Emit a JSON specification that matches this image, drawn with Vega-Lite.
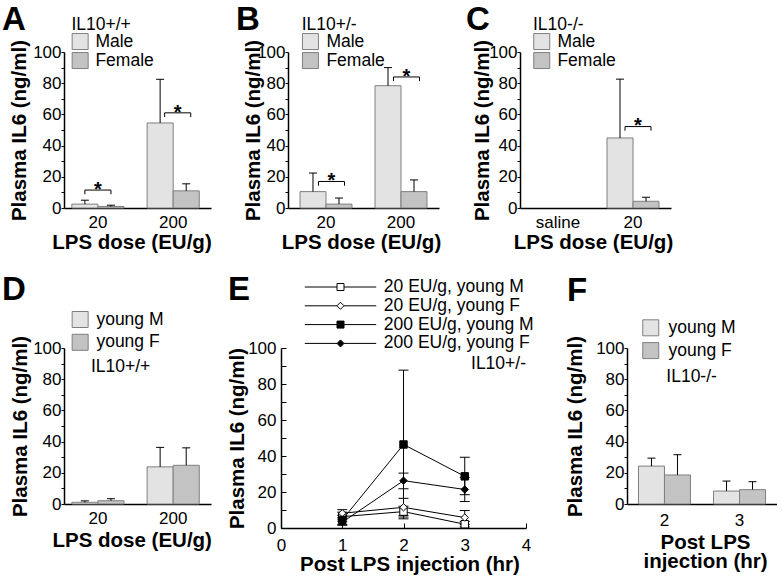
{
  "$schema": "https://vega.github.io/schema/vega-lite/v6.json",
  "padding": {"left": 2, "top": 3, "right": 0, "bottom": 0},
  "config": {
    "font": "Liberation Sans",
    "view": {"stroke": null},
    "axis": {"grid": false, "domainColor": "#000", "domainWidth": 1.5, "tickColor": "#000", "tickWidth": 1, "labelColor": "#000", "titleColor": "#000", "labelFontSize": 17, "titleFontSize": 20.5, "titleFontWeight": "bold", "labelFont": "Liberation Sans", "titleFont": "Liberation Sans", "labelOverlap": false, "labelFlush": false, "labelBound": false},
    "axisX": {"labelAngle": 0},
    "legend": {"orient": "none", "padding": 0, "labelFont": "Liberation Sans", "titleFont": "Liberation Sans", "labelFontSize": 17.5, "titleFontSize": 17.5, "titleFontWeight": "normal", "labelColor": "#000", "titleColor": "#000"},
    "title": {"fontSize": 33, "fontWeight": "bold", "anchor": "start", "color": "#000", "frame": "group", "font": "Liberation Sans"}
  },
  "datasets": {
    "bars": [
      {"panel": "A", "group": "20", "sex": "Male", "value": 2.5, "upper": 5},
      {"panel": "A", "group": "20", "sex": "Female", "value": 1.0, "upper": 1.8},
      {"panel": "A", "group": "200", "sex": "Male", "value": 54.5, "upper": 82.5},
      {"panel": "A", "group": "200", "sex": "Female", "value": 11, "upper": 15.5},
      {"panel": "B", "group": "20", "sex": "Male", "value": 10.5, "upper": 22.4},
      {"panel": "B", "group": "20", "sex": "Female", "value": 2.5, "upper": 6.4},
      {"panel": "B", "group": "200", "sex": "Male", "value": 78.4, "upper": 90},
      {"panel": "B", "group": "200", "sex": "Female", "value": 10.5, "upper": 18},
      {"panel": "C", "group": "20", "sex": "Male", "value": 44.9, "upper": 82.6},
      {"panel": "C", "group": "20", "sex": "Female", "value": 4.3, "upper": 6.9},
      {"panel": "D", "group": "20", "sex": "young M", "value": 1.1, "upper": 2},
      {"panel": "D", "group": "20", "sex": "young F", "value": 2.1, "upper": 3.4},
      {"panel": "D", "group": "200", "sex": "young M", "value": 23.8, "upper": 36.3},
      {"panel": "D", "group": "200", "sex": "young F", "value": 24.8, "upper": 36},
      {"panel": "F", "group": "2", "sex": "young M", "value": 24.3, "upper": 29.4},
      {"panel": "F", "group": "2", "sex": "young F", "value": 18.6, "upper": 31.6},
      {"panel": "F", "group": "3", "sex": "young M", "value": 8.3, "upper": 14.7},
      {"panel": "F", "group": "3", "sex": "young F", "value": 9.2, "upper": 14.3}
    ],
    "brackets": [
      {"panel": "A", "sh": 0, "group": "20", "sex": "Male", "y": 8.8, "ord": 1},
      {"panel": "A", "sh": 0, "group": "20", "sex": "Male", "y": 11.5, "ord": 2},
      {"panel": "A", "sh": 0, "group": "20", "sex": "Female", "y": 11.5, "ord": 3},
      {"panel": "A", "sh": 0, "group": "20", "sex": "Female", "y": 8.8, "ord": 4},
      {"panel": "A", "sh": 1, "group": "200", "sex": "Male", "y": 58.3, "ord": 1},
      {"panel": "A", "sh": 1, "group": "200", "sex": "Male", "y": 61, "ord": 2},
      {"panel": "A", "sh": 1, "group": "200", "sex": "Female", "y": 61, "ord": 3},
      {"panel": "A", "sh": 1, "group": "200", "sex": "Female", "y": 58.3, "ord": 4},
      {"panel": "B", "sh": 1, "group": "20", "sex": "Male", "y": 14.3, "ord": 1},
      {"panel": "B", "sh": 1, "group": "20", "sex": "Male", "y": 17, "ord": 2},
      {"panel": "B", "sh": 1, "group": "20", "sex": "Female", "y": 17, "ord": 3},
      {"panel": "B", "sh": 1, "group": "20", "sex": "Female", "y": 14.3, "ord": 4},
      {"panel": "B", "sh": 1, "group": "200", "sex": "Male", "y": 81.3, "ord": 1},
      {"panel": "B", "sh": 1, "group": "200", "sex": "Male", "y": 84, "ord": 2},
      {"panel": "B", "sh": 1, "group": "200", "sex": "Female", "y": 84, "ord": 3},
      {"panel": "B", "sh": 1, "group": "200", "sex": "Female", "y": 81.3, "ord": 4},
      {"panel": "C", "sh": 1, "group": "20", "sex": "Male", "y": 49.5, "ord": 1},
      {"panel": "C", "sh": 1, "group": "20", "sex": "Male", "y": 52.2, "ord": 2},
      {"panel": "C", "sh": 1, "group": "20", "sex": "Female", "y": 52.2, "ord": 3},
      {"panel": "C", "sh": 1, "group": "20", "sex": "Female", "y": 49.5, "ord": 4}
    ],
    "stars": [
      {"panel": "A", "sh": 0, "group": "20", "y": 11.5},
      {"panel": "A", "sh": 1, "group": "200", "y": 61},
      {"panel": "B", "sh": 1, "group": "20", "y": 17},
      {"panel": "B", "sh": 1, "group": "200", "y": 84},
      {"panel": "C", "sh": 1, "group": "20", "y": 52.2}
    ],
    "eline": [
      {"series": "20 EU/g, young M", "t": 1, "mean": 6.3, "lo": 3.8, "hi": 8.8},
      {"series": "20 EU/g, young M", "t": 2, "mean": 9.1, "lo": 6.1, "hi": 12.1},
      {"series": "20 EU/g, young M", "t": 3, "mean": 2.1, "lo": 0.6, "hi": 3.6},
      {"series": "20 EU/g, young F", "t": 1, "mean": 8.2, "lo": 5.7, "hi": 10.2},
      {"series": "20 EU/g, young F", "t": 2, "mean": 11.5, "lo": 7, "hi": 16.5},
      {"series": "20 EU/g, young F", "t": 3, "mean": 5.8, "lo": 2, "hi": 9.7},
      {"series": "200 EU/g, young M", "t": 1, "mean": 4.5, "lo": 2, "hi": 7},
      {"series": "200 EU/g, young M", "t": 2, "mean": 46.4, "lo": 5.1, "hi": 87.7},
      {"series": "200 EU/g, young M", "t": 3, "mean": 28.7, "lo": 18.5, "hi": 39.3},
      {"series": "200 EU/g, young F", "t": 1, "mean": 3.2, "lo": 1.5, "hi": 4.9},
      {"series": "200 EU/g, young F", "t": 2, "mean": 26.3, "lo": 21.8, "hi": 30.5},
      {"series": "200 EU/g, young F", "t": 3, "mean": 21.4, "lo": 14.7, "hi": 28.1}
    ]
  },
  "spacing": 21,
  "resolve": {"scale": {"x": "independent", "y": "independent", "xOffset": "independent", "fill": "independent", "shape": "independent"}, "legend": {"fill": "independent", "shape": "independent"}},
  "vconcat": [
    {
      "spacing": 24,
      "resolve": {"scale": {"x": "independent", "y": "independent", "xOffset": "independent", "fill": "independent"}, "legend": {"fill": "independent"}},
      "hconcat": [
        {
          "width": 147, "height": 156,
          "title": {"text": "A", "dx": -62, "offset": -20.3},
          "resolve": {"scale": {"xOffset": "independent"}},
          "layer": [
            {"data": {"name": "bars"}, "transform": [{"filter": "datum.panel === 'A'"}],
             "mark": {"type": "bar", "stroke": "#7f7f7f", "strokeWidth": 1},
             "encoding": {
               "x": {"field": "group", "type": "nominal", "title": "LPS dose (EU/g)", "scale": {"domain": ["20", "200"], "paddingInner": 0.307, "paddingOuter": 0.13, "align": 0.4}, "axis": {"ticks": false, "labelPadding": 6.2, "titlePadding": 2.3, "titleX": 67.5}},
               "xOffset": {"field": "sex", "type": "nominal", "scale": {"domain": ["Male", "Female"]}},
               "y": {"field": "value", "type": "quantitative", "title": "Plasma IL6 (ng/ml)", "scale": {"domain": [0, 100]}, "axis": {"values": [0, 10, 20, 30, 40, 50, 60, 70, 80, 90, 100], "tickCount": 12, "labelExpr": "datum.value % 20 === 0 ? datum.label : ''", "labelOverlap": false, "labelFlush": false, "tickSize": 3, "labelPadding": 0, "titleX": -39, "titleBaseline": "alphabetic"}},
               "fill": {"field": "sex", "type": "nominal", "scale": {"domain": ["Male", "Female"], "range": ["#e3e3e3", "#c3c3c3"]}, "legend": {"title": "IL10+/+", "legendX": 7.4, "legendY": -35.8, "labelOffset": 6.5, "titlePadding": -0.9, "rowPadding": -3.5, "symbolType": "square", "symbolSize": 256, "symbolStrokeColor": "#7f7f7f", "symbolStrokeWidth": 1}}
             }},
            {"data": {"name": "bars"}, "transform": [{"filter": "datum.panel === 'A'"}],
             "mark": {"type": "rule", "color": "#000", "strokeWidth": 1},
             "encoding": {"x": {"field": "group", "type": "nominal"}, "xOffset": {"field": "sex", "type": "nominal", "scale": {"domain": ["Male", "Female"]}}, "y": {"field": "value", "type": "quantitative"}, "y2": {"field": "upper"}}},
            {"data": {"name": "bars"}, "transform": [{"filter": "datum.panel === 'A'"}],
             "mark": {"type": "tick", "orient": "horizontal", "color": "#000", "thickness": 1, "size": 8, "opacity": 1},
             "encoding": {"x": {"field": "group", "type": "nominal"}, "xOffset": {"field": "sex", "type": "nominal", "scale": {"domain": ["Male", "Female"]}}, "y": {"field": "upper", "type": "quantitative"}}},
            {"data": {"name": "brackets"}, "transform": [{"filter": "datum.panel === 'A' && datum.sh === 0"}],
             "mark": {"type": "line", "color": "#000", "strokeWidth": 1},
             "encoding": {"x": {"field": "group", "type": "nominal"}, "xOffset": {"field": "sex", "type": "nominal", "scale": {"domain": ["Male", "Female"]}}, "y": {"field": "y", "type": "quantitative"}, "detail": {"field": "group"}, "order": {"field": "ord", "type": "quantitative"}}},
            {"data": {"name": "brackets"}, "transform": [{"filter": "datum.panel === 'A' && datum.sh === 1"}],
             "mark": {"type": "line", "color": "#000", "strokeWidth": 1},
             "encoding": {"x": {"field": "group", "type": "nominal"}, "xOffset": {"field": "sex", "type": "nominal", "scale": {"domain": ["Male", "Female"], "range": [4.5, 56.7]}}, "y": {"field": "y", "type": "quantitative"}, "detail": {"field": "group"}, "order": {"field": "ord", "type": "quantitative"}}},
            {"data": {"name": "stars"}, "transform": [{"filter": "datum.panel === 'A' && datum.sh === 0"}],
             "mark": {"type": "text", "text": "*", "fontSize": 20, "fontWeight": "bold", "baseline": "alphabetic", "dy": 5.8, "color": "#000"},
             "encoding": {"x": {"field": "group", "type": "nominal"}, "y": {"field": "y", "type": "quantitative"}}},
            {"data": {"name": "stars"}, "transform": [{"filter": "datum.panel === 'A' && datum.sh === 1"}],
             "mark": {"type": "text", "text": "*", "fontSize": 20, "fontWeight": "bold", "baseline": "alphabetic", "dy": 5.8, "dx": 4.5, "color": "#000"},
             "encoding": {"x": {"field": "group", "type": "nominal"}, "y": {"field": "y", "type": "quantitative"}}}
          ]
        },
        {
          "spacing": 25,
          "resolve": {"scale": {"x": "independent", "y": "independent", "xOffset": "independent", "fill": "independent"}, "legend": {"fill": "independent"}},
          "hconcat": [
            {
              "width": 151, "height": 156,
              "title": {"text": "B", "dx": -52, "offset": -20.3},
              "resolve": {"scale": {"xOffset": "independent"}},
              "layer": [
                {"data": {"name": "bars"}, "transform": [{"filter": "datum.panel === 'B'"}],
                 "mark": {"type": "bar", "stroke": "#7f7f7f", "strokeWidth": 1},
                 "encoding": {
                   "x": {"field": "group", "type": "nominal", "title": "LPS dose (EU/g)", "scale": {"domain": ["20", "200"], "paddingInner": 0.307, "paddingOuter": 0.16, "align": 0.5}, "axis": {"ticks": false, "labelPadding": 6.2, "titlePadding": 2.3, "titleX": 73}},
                   "xOffset": {"field": "sex", "type": "nominal", "scale": {"domain": ["Male", "Female"]}},
                   "y": {"field": "value", "type": "quantitative", "title": "Plasma IL6 (ng/ml)", "scale": {"domain": [0, 100]}, "axis": {"values": [0, 10, 20, 30, 40, 50, 60, 70, 80, 90, 100], "tickCount": 12, "labelExpr": "datum.value % 20 === 0 ? datum.label : ''", "labelOverlap": false, "labelFlush": false, "tickSize": 3, "labelPadding": 0, "titleX": -29, "titleBaseline": "alphabetic"}},
                   "fill": {"field": "sex", "type": "nominal", "scale": {"domain": ["Male", "Female"], "range": ["#e3e3e3", "#c3c3c3"]}, "legend": {"title": "IL10+/-", "legendX": 13.7, "legendY": -35.8, "labelOffset": 7.2, "titlePadding": -0.9, "rowPadding": -3.5, "symbolType": "square", "symbolSize": 256, "symbolStrokeColor": "#7f7f7f", "symbolStrokeWidth": 1}}
                 }},
                {"data": {"name": "bars"}, "transform": [{"filter": "datum.panel === 'B'"}],
                 "mark": {"type": "rule", "color": "#000", "strokeWidth": 1},
                 "encoding": {"x": {"field": "group", "type": "nominal"}, "xOffset": {"field": "sex", "type": "nominal", "scale": {"domain": ["Male", "Female"]}}, "y": {"field": "value", "type": "quantitative"}, "y2": {"field": "upper"}}},
                {"data": {"name": "bars"}, "transform": [{"filter": "datum.panel === 'B'"}],
                 "mark": {"type": "tick", "orient": "horizontal", "color": "#000", "thickness": 1, "size": 8, "opacity": 1},
                 "encoding": {"x": {"field": "group", "type": "nominal"}, "xOffset": {"field": "sex", "type": "nominal", "scale": {"domain": ["Male", "Female"]}}, "y": {"field": "upper", "type": "quantitative"}}},
                {"data": {"name": "brackets"}, "transform": [{"filter": "datum.panel === 'B'"}],
                 "mark": {"type": "line", "color": "#000", "strokeWidth": 1},
                 "encoding": {"x": {"field": "group", "type": "nominal"}, "xOffset": {"field": "sex", "type": "nominal", "scale": {"domain": ["Male", "Female"], "range": [5.5, 57.5]}}, "y": {"field": "y", "type": "quantitative"}, "detail": {"field": "group"}, "order": {"field": "ord", "type": "quantitative"}}},
                {"data": {"name": "stars"}, "transform": [{"filter": "datum.panel === 'B'"}],
                 "mark": {"type": "text", "text": "*", "fontSize": 20, "fontWeight": "bold", "baseline": "alphabetic", "dy": 5.8, "dx": 5.5, "color": "#000"},
                 "encoding": {"x": {"field": "group", "type": "nominal"}, "y": {"field": "y", "type": "quantitative"}}}
              ]
            },
            {
              "width": 151, "height": 156,
              "title": {"text": "C", "dx": -54, "offset": -20.3},
              "resolve": {"scale": {"xOffset": "independent"}},
              "layer": [
                {"data": {"name": "bars"}, "transform": [{"filter": "datum.panel === 'C'"}],
                 "mark": {"type": "bar", "stroke": "#7f7f7f", "strokeWidth": 1},
                 "encoding": {
                   "x": {"field": "group", "type": "nominal", "title": "LPS dose (EU/g)", "scale": {"domain": ["saline", "20"], "paddingInner": 0.307, "paddingOuter": 0.16, "align": 0.5}, "axis": {"ticks": false, "labelPadding": 6.2, "titlePadding": 2.3, "titleX": 73}},
                   "xOffset": {"field": "sex", "type": "nominal", "scale": {"domain": ["Male", "Female"]}},
                   "y": {"field": "value", "type": "quantitative", "title": "Plasma IL6 (ng/ml)", "scale": {"domain": [0, 100]}, "axis": {"values": [0, 10, 20, 30, 40, 50, 60, 70, 80, 90, 100], "tickCount": 12, "labelExpr": "datum.value % 20 === 0 ? datum.label : ''", "labelOverlap": false, "labelFlush": false, "tickSize": 3, "labelPadding": 0, "titleX": -31.5, "titleBaseline": "alphabetic"}},
                   "fill": {"field": "sex", "type": "nominal", "scale": {"domain": ["Male", "Female"], "range": ["#e3e3e3", "#c3c3c3"]}, "legend": {"title": "IL10-/-", "legendX": 13, "legendY": -35.8, "labelOffset": 6.9, "titlePadding": -0.9, "rowPadding": -3.5, "symbolType": "square", "symbolSize": 256, "symbolStrokeColor": "#7f7f7f", "symbolStrokeWidth": 1}}
                 }},
                {"data": {"name": "bars"}, "transform": [{"filter": "datum.panel === 'C'"}],
                 "mark": {"type": "rule", "color": "#000", "strokeWidth": 1},
                 "encoding": {"x": {"field": "group", "type": "nominal"}, "xOffset": {"field": "sex", "type": "nominal", "scale": {"domain": ["Male", "Female"]}}, "y": {"field": "value", "type": "quantitative"}, "y2": {"field": "upper"}}},
                {"data": {"name": "bars"}, "transform": [{"filter": "datum.panel === 'C'"}],
                 "mark": {"type": "tick", "orient": "horizontal", "color": "#000", "thickness": 1, "size": 8, "opacity": 1},
                 "encoding": {"x": {"field": "group", "type": "nominal"}, "xOffset": {"field": "sex", "type": "nominal", "scale": {"domain": ["Male", "Female"]}}, "y": {"field": "upper", "type": "quantitative"}}},
                {"data": {"name": "brackets"}, "transform": [{"filter": "datum.panel === 'C'"}],
                 "mark": {"type": "line", "color": "#000", "strokeWidth": 1},
                 "encoding": {"x": {"field": "group", "type": "nominal"}, "xOffset": {"field": "sex", "type": "nominal", "scale": {"domain": ["Male", "Female"], "range": [5, 57]}}, "y": {"field": "y", "type": "quantitative"}, "detail": {"field": "group"}, "order": {"field": "ord", "type": "quantitative"}}},
                {"data": {"name": "stars"}, "transform": [{"filter": "datum.panel === 'C'"}],
                 "mark": {"type": "text", "text": "*", "fontSize": 20, "fontWeight": "bold", "baseline": "alphabetic", "dy": 5.8, "dx": 5, "color": "#000"},
                 "encoding": {"x": {"field": "group", "type": "nominal"}, "y": {"field": "y", "type": "quantitative"}}}
              ]
            }
          ]
        }
      ]
    },
    {
      "spacing": 14,
      "resolve": {"scale": {"x": "independent", "y": "independent", "xOffset": "independent", "fill": "independent", "shape": "independent"}, "legend": {"fill": "independent", "shape": "independent"}},
      "hconcat": [
        {
          "width": 147, "height": 156,
          "title": {"text": "D", "dx": -62, "offset": 3.3},
          "layer": [
            {"data": {"name": "bars"}, "transform": [{"filter": "datum.panel === 'D'"}],
             "mark": {"type": "bar", "stroke": "#7f7f7f", "strokeWidth": 1},
             "encoding": {
               "x": {"field": "group", "type": "nominal", "title": "LPS dose (EU/g)", "scale": {"domain": ["20", "200"], "paddingInner": 0.307, "paddingOuter": 0.13, "align": 0.4}, "axis": {"ticks": false, "labelPadding": 6.7, "titlePadding": 3.8, "titleX": 67.7}},
               "xOffset": {"field": "sex", "type": "nominal", "scale": {"domain": ["young M", "young F"]}},
               "y": {"field": "value", "type": "quantitative", "title": "Plasma IL6 (ng/ml)", "scale": {"domain": [0, 100]}, "axis": {"values": [0, 10, 20, 30, 40, 50, 60, 70, 80, 90, 100], "tickCount": 12, "labelExpr": "datum.value % 20 === 0 ? datum.label : ''", "labelOverlap": false, "labelFlush": false, "tickSize": 3, "labelPadding": 0, "titleX": -38, "titleBaseline": "alphabetic"}},
               "fill": {"field": "sex", "type": "nominal", "scale": {"domain": ["young M", "young F"], "range": ["#e3e3e3", "#c3c3c3"]}, "legend": {"title": "IL10+/+", "titleOrient": "bottom", "titleAnchor": "start", "legendX": 7.4, "legendY": -37.25, "labelOffset": 7.5, "titlePadding": 5.3, "rowPadding": 1.8, "symbolType": "square", "symbolSize": 256, "symbolStrokeColor": "#7f7f7f", "symbolStrokeWidth": 1, "encode": {"title": {"update": {"dx": {"value": 19.5}}}}}}
             }},
            {"data": {"name": "bars"}, "transform": [{"filter": "datum.panel === 'D'"}],
             "mark": {"type": "rule", "color": "#000", "strokeWidth": 1},
             "encoding": {"x": {"field": "group", "type": "nominal"}, "xOffset": {"field": "sex", "type": "nominal"}, "y": {"field": "value", "type": "quantitative"}, "y2": {"field": "upper"}}},
            {"data": {"name": "bars"}, "transform": [{"filter": "datum.panel === 'D'"}],
             "mark": {"type": "tick", "orient": "horizontal", "color": "#000", "thickness": 1, "size": 8, "opacity": 1},
             "encoding": {"x": {"field": "group", "type": "nominal"}, "xOffset": {"field": "sex", "type": "nominal"}, "y": {"field": "upper", "type": "quantitative"}}}
          ]
        },
        {
          "spacing": 30,
          "resolve": {"scale": {"x": "independent", "y": "independent", "xOffset": "independent", "fill": "independent", "shape": "independent"}, "legend": {"fill": "independent", "shape": "independent"}},
          "hconcat": [
            {
              "width": 245, "height": 180,
              "title": {"text": "E", "dx": -53, "offset": -29},
              "data": {"name": "eline"},
              "resolve": {"scale": {"shape": "independent", "fill": "independent"}},
              "layer": [
                {"mark": {"type": "rule", "color": "#000", "strokeWidth": 1},
                 "encoding": {
                   "x": {"field": "t", "type": "quantitative", "title": "Post LPS injection (hr)", "scale": {"domain": [0, 4]}, "axis": {"values": [0, 1, 2, 3, 4], "tickCount": 8, "format": "d", "tickSize": -5, "labelPadding": 14.4, "titlePadding": 1.5, "labelFlush": false, "titleX": 128.5}},
                   "y": {"field": "lo", "type": "quantitative", "title": "Plasma IL6 (ng/ml)", "scale": {"domain": [0, 100]}, "axis": {"values": [0, 10, 20, 30, 40, 50, 60, 70, 80, 90, 100], "tickCount": 12, "labelExpr": "datum.value % 20 === 0 ? datum.label : ''", "labelOverlap": false, "labelFlush": false, "tickSize": -5, "labelPadding": 10, "titleX": -38, "titleBaseline": "alphabetic"}},
                   "y2": {"field": "hi"}
                 }},
                {"mark": {"type": "tick", "orient": "horizontal", "color": "#000", "thickness": 1, "size": 10, "opacity": 1},
                 "encoding": {"x": {"field": "t", "type": "quantitative"}, "y": {"field": "hi", "type": "quantitative"}}},
                {"mark": {"type": "tick", "orient": "horizontal", "color": "#000", "thickness": 1, "size": 10, "opacity": 1},
                 "encoding": {"x": {"field": "t", "type": "quantitative"}, "y": {"field": "lo", "type": "quantitative"}}},
                {"mark": {"type": "line", "color": "#000", "strokeWidth": 1},
                 "encoding": {"x": {"field": "t", "type": "quantitative"}, "y": {"field": "mean", "type": "quantitative"}, "detail": {"field": "series"}}},
                {"mark": {"type": "point", "filled": true, "opacity": 1, "stroke": "#000", "strokeWidth": 1, "size": 55},
                 "encoding": {
                   "x": {"field": "t", "type": "quantitative"}, "y": {"field": "mean", "type": "quantitative"},
                   "shape": {"field": "series", "type": "nominal", "scale": {"domain": ["20 EU/g, young M", "20 EU/g, young F", "200 EU/g, young M", "200 EU/g, young F"], "range": ["square", "diamond", "square", "diamond"]}, "legend": null},
                   "fill": {"field": "series", "type": "nominal", "scale": {"domain": ["20 EU/g, young M", "20 EU/g, young F", "200 EU/g, young M", "200 EU/g, young F"], "range": ["#ffffff", "#ffffff", "#000000", "#000000"]}, "legend": null}
                 }},
                {"mark": {"type": "point", "filled": true, "opacity": 0, "stroke": "#000", "strokeWidth": 1, "size": 49},
                 "encoding": {
                   "x": {"field": "t", "type": "quantitative"}, "y": {"field": "mean", "type": "quantitative"},
                   "shape": {"field": "series", "type": "nominal", "scale": {"domain": ["20 EU/g, young M", "20 EU/g, young F", "200 EU/g, young M", "200 EU/g, young F"], "range": ["M-10.2,0H-1M1,0H10.2M-1,-1H1V1H-1Z", "M-10.2,0H-1M1,0H10.2M-1,0L0,-1L1,0L0,1Z", "M-10.2,0H-1M1,0H10.2M-1,-1H1V1H-1Z", "M-10.2,0H-1M1,0H10.2M-1,0L0,-1L1,0L0,1Z"]}, "legend": {"title": null, "legendX": 50.75, "legendY": -69.75, "labelOffset": 34.6, "rowPadding": -0.2, "symbolSize": 49, "symbolStrokeColor": "#000", "symbolStrokeWidth": 1, "symbolOpacity": 1, "encode": {"symbols": {"update": {"stroke": {"value": "#000"}, "strokeWidth": {"value": 1}, "opacity": {"value": 1}}}}}},
                   "fill": {"field": "series", "type": "nominal", "scale": {"domain": ["20 EU/g, young M", "20 EU/g, young F", "200 EU/g, young M", "200 EU/g, young F"], "range": ["#ffffff", "#ffffff", "#000000", "#000000"]}, "legend": {"title": null, "legendX": 50.75, "legendY": -69.75, "labelOffset": 34.6, "rowPadding": -0.2, "symbolSize": 49, "symbolStrokeColor": "#000", "symbolStrokeWidth": 1, "symbolOpacity": 1, "encode": {"symbols": {"update": {"stroke": {"value": "#000"}, "strokeWidth": {"value": 1}, "opacity": {"value": 1}}}}}}
                 }},
                {"data": {"values": [{"lab": "IL10+/-"}]},
                 "mark": {"type": "text", "align": "right", "baseline": "middle", "fontSize": 17.5, "color": "#000"},
                 "encoding": {"x": {"datum": 4}, "y": {"datum": 91}, "text": {"field": "lab"}}}
              ]
            },
            {
              "width": 150, "height": 156,
              "title": {"text": "F", "dx": -60, "offset": 11.5},
              "layer": [
                {"data": {"name": "bars"}, "transform": [{"filter": "datum.panel === 'F'"}],
                 "mark": {"type": "bar", "stroke": "#7f7f7f", "strokeWidth": 1},
                 "encoding": {
                   "x": {"field": "group", "type": "nominal", "title": ["Post LPS", "injection (hr)"], "scale": {"domain": ["2", "3"], "paddingInner": 0.307, "paddingOuter": 0.153, "align": 0.5}, "axis": {"ticks": false, "labelPadding": 8.4, "titlePadding": 3.8, "titleLineHeight": 19, "titleX": 78}},
                   "xOffset": {"field": "sex", "type": "nominal", "scale": {"domain": ["young M", "young F"]}},
                   "y": {"field": "value", "type": "quantitative", "title": "Plasma IL6 (ng/ml)", "scale": {"domain": [0, 100]}, "axis": {"values": [0, 10, 20, 30, 40, 50, 60, 70, 80, 90, 100], "tickCount": 12, "labelExpr": "datum.value % 20 === 0 ? datum.label : ''", "labelOverlap": false, "labelFlush": false, "tickSize": 3, "labelPadding": 0, "titleX": -46, "titleBaseline": "alphabetic"}},
                   "fill": {"field": "sex", "type": "nominal", "scale": {"domain": ["young M", "young F"], "range": ["#e3e3e3", "#c3c3c3"]}, "legend": {"title": "IL10-/-", "titleOrient": "bottom", "titleAnchor": "start", "legendX": 15, "legendY": -28.95, "labelOffset": 9, "titlePadding": 7, "rowPadding": 1.8, "symbolType": "square", "symbolSize": 256, "symbolStrokeColor": "#7f7f7f", "symbolStrokeWidth": 1, "encode": {"title": {"update": {"dx": {"value": 24.3}}}}}}
                 }},
                {"data": {"name": "bars"}, "transform": [{"filter": "datum.panel === 'F'"}],
                 "mark": {"type": "rule", "color": "#000", "strokeWidth": 1},
                 "encoding": {"x": {"field": "group", "type": "nominal"}, "xOffset": {"field": "sex", "type": "nominal"}, "y": {"field": "value", "type": "quantitative"}, "y2": {"field": "upper"}}},
                {"data": {"name": "bars"}, "transform": [{"filter": "datum.panel === 'F'"}],
                 "mark": {"type": "tick", "orient": "horizontal", "color": "#000", "thickness": 1, "size": 8, "opacity": 1},
                 "encoding": {"x": {"field": "group", "type": "nominal"}, "xOffset": {"field": "sex", "type": "nominal"}, "y": {"field": "upper", "type": "quantitative"}}}
              ]
            }
          ]
        }
      ]
    }
  ]
}
